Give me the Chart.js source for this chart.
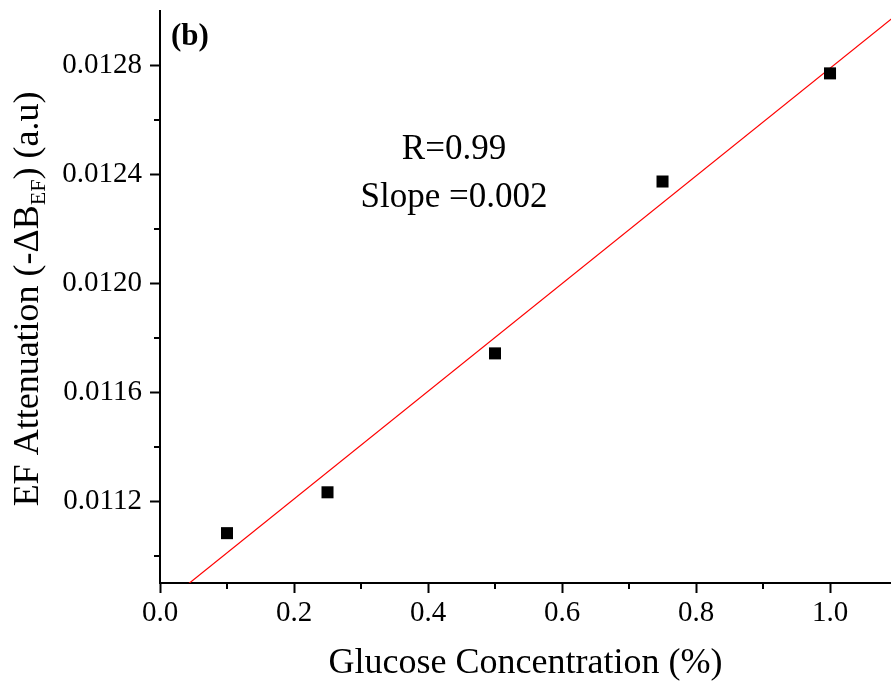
<!DOCTYPE html>
<html>
<head>
<meta charset="utf-8">
<script src="https://cdn.jsdelivr.net/npm/chart.js@4.4.1/dist/chart.umd.min.js"></script>
<style>
  html, body { margin: 0; padding: 0; background: #fff; }
  #wrap { width: 891px; height: 688px; position: relative; }
</style>
</head>
<body>
<div id="wrap"><canvas id="glucoseChart"></canvas></div>
<script>
const concentration = [0.1, 0.25, 0.5, 0.75, 1.0];
const attenuation = [0.011083, 0.011233, 0.011743, 0.012374, 0.012771];

// axis ticks
const xTickLabels = ['0.0', '0.2', '0.4', '0.6', '0.8', '1.0'];
const yTickLabels = ['0.0112', '0.0116', '0.0120', '0.0124', '0.0128'];
const xMinorTicks = [0.1, 0.3, 0.5, 0.7, 0.9];
const yMinorTicks = [0.0110, 0.0114, 0.0118, 0.0122, 0.0126];

const xRange = [0, 1.091];
const yRange = [0.0109, 0.0130];

const annotationLines = ['R=0.99', 'Slope =0.002'];
const panelLabel = '(b)';

const serif = "'Liberation Serif', 'Times New Roman', serif";

// least squares fit through the measured points
function linearFit(xs, ys) {
    const n = xs.length;
    const mx = xs.reduce((a, b) => a + b, 0) / n;
    const my = ys.reduce((a, b) => a + b, 0) / n;
    let sxy = 0, sxx = 0;
    for (let i = 0; i < n; i++) {
        sxy += (xs[i] - mx) * (ys[i] - my);
        sxx += (xs[i] - mx) * (xs[i] - mx);
    }
    const slope = sxy / sxx;
    return { slope, intercept: my - slope * mx };
}
const fit = linearFit(concentration, attenuation);
const fitX = [0, 1.1];

// draws the short minor ticks, the y title with subscript and the text labels
const extrasPlugin = {
    id: 'extras',
    afterDraw(chart) {
        const { ctx, chartArea, scales } = chart;
        const xs = scales.x, ys = scales.y;
        ctx.save();
        ctx.strokeStyle = '#000';
        ctx.lineWidth = 2;
        xMinorTicks.forEach(v => {
            const px = Math.round(xs.getPixelForValue(v));
            ctx.beginPath();
            ctx.moveTo(px, chartArea.bottom);
            ctx.lineTo(px, chartArea.bottom + 6);
            ctx.stroke();
        });
        yMinorTicks.forEach(v => {
            const py = Math.round(ys.getPixelForValue(v));
            ctx.beginPath();
            ctx.moveTo(chartArea.left, py);
            ctx.lineTo(chartArea.left - 6, py);
            ctx.stroke();
        });

        // y axis title: EF Attenuation (-ΔB_EF) (a.u)
        const big = '36px ' + serif;
        const small = '22px ' + serif;
        const parts = [
            { t: 'EF Attenuation (-ΔB', f: big, dy: 0 },
            { t: 'EF', f: small, dy: 7 },
            { t: ') (a.u)', f: big, dy: 0 }
        ];
        let total = 0;
        parts.forEach(p => { ctx.font = p.f; p.w = ctx.measureText(p.t).width; total += p.w; });
        ctx.translate(38, 299);
        ctx.rotate(-Math.PI / 2);
        ctx.fillStyle = '#000';
        ctx.textBaseline = 'alphabetic';
        ctx.textAlign = 'left';
        let cx = -total / 2;
        parts.forEach(p => {
            ctx.font = p.f;
            ctx.fillText(p.t, cx, p.dy);
            cx += p.w;
        });
        ctx.restore();

        ctx.save();
        ctx.fillStyle = '#000';
        ctx.textAlign = 'center';
        ctx.textBaseline = 'alphabetic';
        ctx.font = '35px ' + serif;
        ctx.fillText(annotationLines[0], 454, 159);
        ctx.fillText(annotationLines[1], 454, 207);
        ctx.textAlign = 'left';
        ctx.font = 'bold 31px ' + serif;
        ctx.fillText(panelLabel, 171, 45);
        ctx.restore();
    }
};

new Chart(document.getElementById('glucoseChart'), {
    type: 'scatter',
    data: {
        datasets: [
            {
                label: 'Data',
                data: concentration.map((x, i) => ({ x, y: attenuation[i] })),
                pointStyle: 'rect',
                pointRadius: 8.5,
                pointHoverRadius: 8.5,
                backgroundColor: '#000',
                borderColor: '#000',
                borderWidth: 0,
                order: 1
            },
            {
                label: 'Linear fit',
                data: fitX.map(x => ({ x, y: fit.intercept + fit.slope * x })),
                showLine: true,
                pointRadius: 0,
                borderColor: '#ff0000',
                borderWidth: 1.2,
                order: 2
            }
        ]
    },
    options: {
        responsive: true,
        maintainAspectRatio: false,
        animation: false,
        layout: { autoPadding: false, padding: { top: 11, right: 0, left: 0, bottom: 0 } },
        plugins: {
            legend: { display: false },
            tooltip: { enabled: false }
        },
        scales: {
            x: {
                type: 'linear',
                min: xRange[0],
                max: xRange[1],
                afterFit: s => {
                    s.height = 105;
                    s.paddingLeft = 0;
                    s.paddingRight = 0;
                },
                afterBuildTicks: s => { s.ticks = xTickLabels.map(t => ({ value: parseFloat(t) })); },
                ticks: {
                    callback: (v, i) => xTickLabels[i],
                    color: '#000',
                    font: { family: serif, size: 29 },
                    padding: 3,
                    maxRotation: 0
                },
                grid: { drawOnChartArea: false, tickLength: 10, tickWidth: 2, tickColor: '#000' },
                border: { display: true, color: '#000', width: 2 },
                title: {
                    display: true,
                    text: 'Glucose Concentration (%)',
                    color: '#000',
                    font: { family: serif, size: 36 },
                    padding: { top: 0, bottom: 3 }
                }
            },
            y: {
                type: 'linear',
                min: yRange[0],
                max: yRange[1],
                afterFit: s => {
                    s.width = 160;
                    s.paddingTop = 0;
                    s.paddingBottom = 0;
                },
                afterBuildTicks: s => { s.ticks = yTickLabels.map(t => ({ value: parseFloat(t) })); },
                ticks: {
                    callback: (v, i) => yTickLabels[i],
                    color: '#000',
                    font: { family: serif, size: 29 },
                    padding: 8
                },
                grid: { drawOnChartArea: false, tickLength: 10, tickWidth: 2, tickColor: '#000' },
                border: { display: true, color: '#000', width: 2 }
            }
        }
    },
    plugins: [extrasPlugin]
});
</script>
</body>
</html>
